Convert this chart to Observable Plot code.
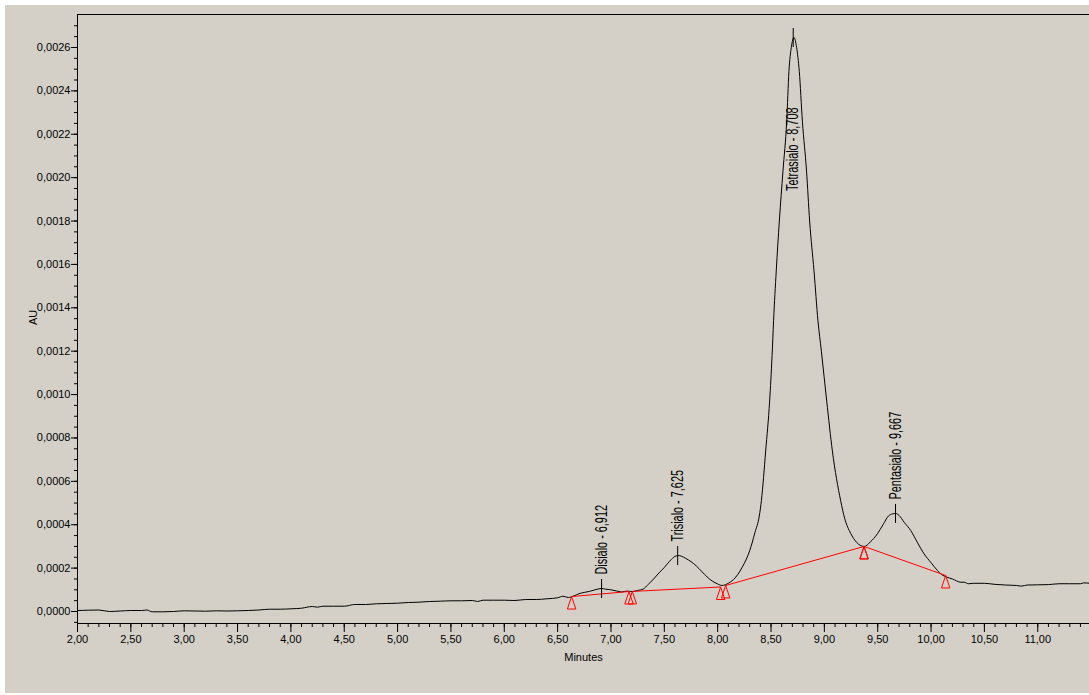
<!DOCTYPE html>
<html>
<head>
<meta charset="utf-8">
<script src="https://cdn.jsdelivr.net/npm/d3@7"></script>
<script src="https://cdn.jsdelivr.net/npm/@observablehq/plot@0.6"></script>
<style>
  html, body { margin: 0; padding: 0; background: #ffffff; }
  #bg { position: absolute; left: 5px; top: 5px; width: 1084px; height: 688px; background: #d4d0c8; }
  #chart { position: absolute; left: 0; top: 0; }
</style>
</head>
<body>
<div id="bg"></div>
<div id="chart"></div>
<script>
// ---- Chromatogram trace (retention time in minutes, absorbance in AU) ----
const rt = [
  2.00, 2.10, 2.20, 2.30, 2.40, 2.50, 2.60, 2.65, 2.70, 2.80, 2.90,
  3.00, 3.10, 3.20, 3.30, 3.40, 3.50, 3.60, 3.70, 3.80, 3.90,
  4.00, 4.10, 4.20, 4.25, 4.30, 4.40, 4.50, 4.60, 4.70, 4.80, 4.90,
  5.00, 5.10, 5.20, 5.30, 5.40, 5.50, 5.60, 5.70, 5.75, 5.80, 5.90,
  6.00, 6.10, 6.20, 6.30, 6.40, 6.50, 6.55, 6.60, 6.65, 6.70, 6.75, 6.80, 6.85, 6.91, 6.95,
  7.00, 7.05, 7.10, 7.15, 7.20, 7.25, 7.30, 7.35, 7.40, 7.45, 7.50, 7.55, 7.60, 7.63, 7.66,
  7.70, 7.75, 7.80, 7.85, 7.90, 7.95, 8.00, 8.04, 8.10, 8.15, 8.23, 8.30, 8.35, 8.39, 8.41,
  8.45, 8.487, 8.510, 8.524, 8.549, 8.578, 8.612, 8.647, 8.668, 8.69, 8.715, 8.74, 8.765,
  8.794, 8.833, 8.862, 8.903, 8.94, 8.972, 9.022, 9.075, 9.153, 9.19, 9.247, 9.30, 9.34,
  9.375, 9.43, 9.497, 9.55, 9.60, 9.64, 9.67, 9.70, 9.75, 9.81, 9.87, 9.934,
  10.00, 10.06, 10.10, 10.15, 10.20, 10.28, 10.31, 10.35, 10.40, 10.50, 10.60, 10.70,
  10.80, 10.85, 10.90, 11.00, 11.10, 11.20, 11.30, 11.40, 11.43, 11.49
];
const au = [
  0.0000046, 0.0000060, 0.0000069, 0.0000000, 0.0000023, 0.0000046, 0.0000046, 0.0000069, -0.0000014, -0.0000014, 0.0000000,
  0.0000032, 0.0000023, 0.0000014, 0.0000032, 0.0000023, 0.0000032, 0.0000046, 0.0000069, 0.0000106, 0.0000106,
  0.0000124, 0.0000152, 0.0000230, 0.0000200, 0.0000244, 0.0000244, 0.0000244, 0.0000323, 0.0000323, 0.0000355, 0.0000369,
  0.0000383, 0.0000415, 0.0000429, 0.0000461, 0.0000475, 0.0000493, 0.0000493, 0.0000507, 0.0000461, 0.0000521, 0.0000521,
  0.0000521, 0.0000507, 0.0000553, 0.0000553, 0.0000586, 0.0000632, 0.0000705, 0.0000645, 0.0000715, 0.0000820, 0.0000880, 0.0000930, 0.0001000, 0.0001060, 0.0001030,
  0.0001000, 0.0000950, 0.0000900, 0.0000940, 0.0000920, 0.0000970, 0.0001030, 0.0001250, 0.0001500, 0.0001780, 0.0002030, 0.0002320, 0.0002540, 0.0002580, 0.0002550,
  0.0002450, 0.0002300, 0.0002100, 0.0001850, 0.0001600, 0.0001400, 0.0001270, 0.0001200, 0.0001300, 0.0001480, 0.0002040, 0.0002800, 0.0003650, 0.0004400, 0.0005120,
  0.0007400, 0.0009700, 0.0011800, 0.0013400, 0.0015700, 0.0018000, 0.0020300, 0.0022600, 0.0024900, 0.0026000, 0.0026460, 0.0026000, 0.0024900,
  0.0022600, 0.0020300, 0.0018000, 0.0015700, 0.0013400, 0.0012000, 0.0009700, 0.0007400, 0.0005100, 0.0004300, 0.0003600, 0.0003200, 0.0003040,
  0.0003000, 0.0003200, 0.0003580, 0.0004000, 0.0004400, 0.0004500, 0.0004520, 0.0004430, 0.0004100, 0.0003730, 0.0003200, 0.0002660,
  0.0002250, 0.0001890, 0.0001700, 0.0001580, 0.0001500, 0.0001350, 0.0001350, 0.0001280, 0.0001300, 0.0001300, 0.0001250, 0.0001220,
  0.0001200, 0.0001170, 0.0001220, 0.0001230, 0.0001240, 0.0001280, 0.0001280, 0.0001280, 0.0001320, 0.0001300
];

// ---- Peak annotations ----
const peakNames = ["Disialo - 6,912", "Trisialo - 7,625", "Tetrasialo - 8,708", "Pentasialo - 9,667"];
const peakRT = [6.912, 7.625, 8.708, 9.667];
const peakAU = [0.000106, 0.000258, 0.002646, 0.000452];

// ---- Integration baselines (red) ----
const blStartRT = [6.631, 7.200, 8.075, 9.372];
const blStartAU = [0.000069, 0.0000925, 0.000120, 0.000300];
const blEndRT = [7.169, 8.028, 9.372, 10.137];
const blEndAU = [0.000092, 0.000113, 0.000300, 0.000166];

// ---- Axis ticks ----
const xMajor = d3.range(4, 23).map(i => i / 2);          // 2,00 … 11,00
const xMinor = d3.range(20, 115).map(i => i / 10);
const yMajor = d3.range(0, 14).map(i => i * 0.0002);     // 0,0000 … 0,0026
const yMinor = d3.range(-1, 55).map(i => i * 0.00005);
const xDomain = [2, 11.485];
const yDomain = [-0.0000553, 0.002752];

const trace = rt.map((t, i) => ({t, v: au[i]}));
const peaks = peakNames.map((name, i) => ({name, t: peakRT[i], v: peakAU[i]}));
const baselines = blStartRT.map((t, i) => ({t1: t, v1: blStartAU[i], t2: blEndRT[i], v2: blEndAU[i]}));
const markers = baselines.flatMap(b => [{t: b.t1, v: b.v1}, {t: b.t2, v: b.v2}]);

const FONT = '"Liberation Sans Narrow", "Arial Narrow", "Liberation Sans", Arial, sans-serif';
const fmtComma = (d, n) => d.toFixed(n).replace(".", ",");

const triangleSym = {draw(ctx) { ctx.moveTo(0, 0); ctx.lineTo(4.2, 12.5); ctx.lineTo(-4.2, 12.5); ctx.closePath(); }};
const vTickSym = {draw(ctx) { ctx.moveTo(0, -9.5); ctx.lineTo(0, 9.5); }};

const chart = Plot.plot({
  width: 1089,
  height: 695,
  marginLeft: 77,
  marginRight: 0,
  marginTop: 14,
  marginBottom: 72,
  style: {background: "transparent", color: "black", fontFamily: FONT, fontSize: "11px", overflow: "visible"},
  x: {domain: xDomain},
  y: {domain: yDomain},
  marks: [
    Plot.axisY(yMinor, {tickSize: 3, tickFormat: () => "", label: null}),
    Plot.axisY(yMajor, {tickSize: 6, tickPadding: 1, tickFormat: d => fmtComma(d, 4), label: null}),
    Plot.axisX(xMinor, {tickSize: 4, tickFormat: () => "", label: null}),
    Plot.axisX(xMajor, {tickSize: 9, tickPadding: 3, tickFormat: d => fmtComma(d, 2), label: null}),
    Plot.ruleX([xDomain[0]], {stroke: "black"}),
    Plot.ruleY([yDomain[0]], {stroke: "black"}),
    Plot.ruleY([yDomain[1]], {stroke: "black"}),
    Plot.line(trace, {x: "t", y: "v", stroke: "black", strokeWidth: 1, curve: "monotone-x"}),
    Plot.link(baselines, {x1: "t1", y1: "v1", x2: "t2", y2: "v2", stroke: "#ff0000", strokeWidth: 1}),
    Plot.dot(markers, {x: "t", y: "v", symbol: triangleSym, stroke: "#ff0000", fill: "none", strokeWidth: 1}),
    Plot.dot(peaks, {x: "t", y: "v", symbol: vTickSym, stroke: "black", fill: "none", strokeWidth: 1}),
    Plot.text(peaks.filter(p => p.v < 0.001), {x: "t", y: "v", text: "name", rotate: -90, textAnchor: "start", dy: -14, fontSize: 16, fill: "black"}),
    Plot.text(peaks.filter(p => p.v >= 0.001), {x: "t", y: "v", text: "name", rotate: -90, textAnchor: "end", dy: 70, fontSize: 16, fill: "black"}),
    Plot.text(["AU"], {text: d => d, frameAnchor: "left", rotate: -90, dx: -44, dy: 6, fontSize: 11, fill: "black"}),
    Plot.text(["Minutes"], {text: d => d, frameAnchor: "bottom", dy: 37, fontSize: 11, fill: "black"})
  ]
});

// compress the peak labels along their reading direction (tall, condensed software font)
d3.select(chart).selectAll("text").each(function() {
  if (peakNames.includes(this.textContent)) {
    const t = this.getAttribute("transform") || "";
    this.setAttribute("transform", t + " scale(0.68,1)");
  }
});

document.getElementById("chart").appendChild(chart);
</script>
</body>
</html>
